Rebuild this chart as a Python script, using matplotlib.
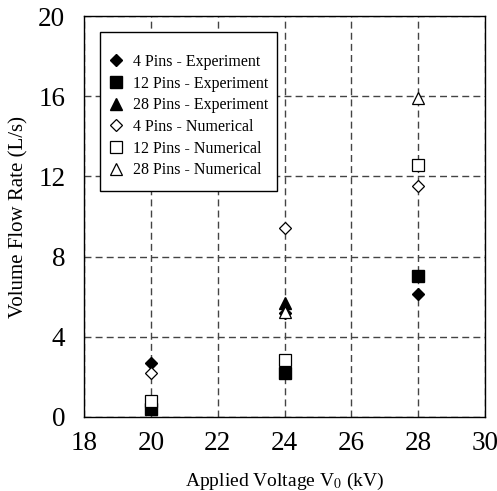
import numpy as np
import matplotlib
matplotlib.use("Agg")
import matplotlib.pyplot as plt
from matplotlib.patches import Rectangle

plt.rcParams['font.family'] = ['Liberation Serif', 'DejaVu Serif']
plt.rcParams['mathtext.fontset'] = 'stix'

voltage = [20, 24, 28]
exp_4 = [2.7, 5.2, 6.15]
exp_12 = [0.42, 2.17, 7.05]
exp_28 = [np.nan, 5.67, np.nan]
num_4 = [2.2, 9.42, 11.5]
num_12 = [0.78, 2.83, 12.55]
num_28 = [np.nan, 5.25, 15.9]

xticks = [18, 20, 22, 24, 26, 28, 30]
yticks = [0, 4, 8, 12, 16, 20]

fig = plt.figure(figsize=(4.97, 4.91), dpi=100)
ax = fig.add_axes([84/497, 1-417/491, 401/497, 401/491])

ax.plot(voltage, exp_4, 'D', color='black', ms=6.5, ls='none', label='4 Pins - Experiment', zorder=3)
ax.plot(voltage, exp_12, 's', color='black', ms=8, ls='none', label='12 Pins - Experiment', zorder=3)
ax.plot(voltage, exp_28, '^', color='black', ms=8, ls='none', label='28 Pins - Experiment', zorder=3)
ax.plot(voltage, num_4, 'D', mfc='white', mec='black', mew=0.9, ms=6.5, ls='none', label='4 Pins - Numerical', zorder=4)
ax.plot(voltage, num_12, 's', mfc='white', mec='black', mew=0.9, ms=8, ls='none', label='12 Pins - Numerical', zorder=4)
ax.plot(voltage, num_28, '^', mfc='white', mec='black', mew=0.9, ms=8, ls='none', label='28 Pins - Numerical', zorder=4)

ax.set_xlim(18, 30)
ax.set_ylim(0, 20)
ax.set_xticks(xticks)
ax.set_yticks(yticks)
ax.tick_params(length=0, labelsize=19.5)
ax.tick_params(axis='x', pad=10)
ax.tick_params(axis='y', pad=13.5)
ax.grid(True, ls=(0, (5, 3)), color='#444444', lw=1.0)
for s in ax.spines.values():
    s.set_linewidth(1.0)

ax.set_xlabel('Applied Voltage V$_0$ (kV)', fontsize=14, labelpad=11)
ax.set_ylabel('Volume Flow Rate (L/s)', fontsize=15, labelpad=7)

# legend frame
ax.add_patch(Rectangle((0.0399, 0.5636), 0.4414, 0.3977, transform=ax.transAxes,
                       facecolor='white', edgecolor='black', lw=1.0, zorder=5))
leg = ax.legend(loc='upper left', bbox_to_anchor=(0.0611, 0.9057), fontsize=11.5,
                frameon=False, borderpad=0, borderaxespad=0,
                handletextpad=0.56, labelspacing=0.356, handlelength=1.0)
leg.set_zorder(6)

fig.savefig('out.png', dpi=100)
